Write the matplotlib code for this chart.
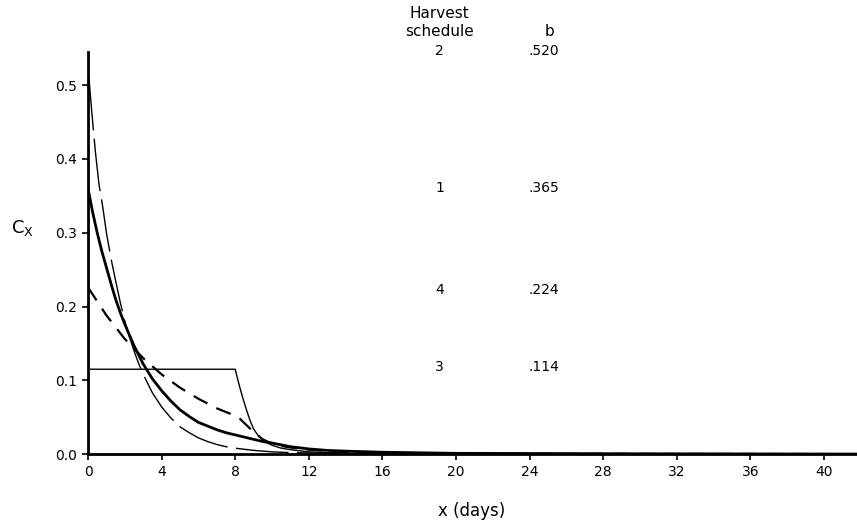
import matplotlib
matplotlib.use("Agg")
import matplotlib.pyplot as plt

# ---- data ----
x2 = [0.05, 0.2, 0.4, 0.6, 0.8, 1.0, 1.25, 1.5, 1.75, 2.0, 2.25, 2.5, 2.75, 3.0, 3.5, 4.0, 4.5, 5.0, 5.5, 6.0, 6.5, 7.0, 7.5, 8.0, 9.0, 10.0, 11.0, 12.0, 14.0, 16.0, 20.0, 30.0, 42.0]
y2 = [0.510, 0.465, 0.410, 0.365, 0.335, 0.300, 0.265, 0.235, 0.206, 0.180, 0.159, 0.140, 0.123, 0.108, 0.083, 0.064, 0.049, 0.037, 0.029, 0.022, 0.017, 0.013, 0.010, 0.008, 0.005, 0.003, 0.002, 0.0015, 0.0008, 0.0005, 0.0002, 0.0001, 0.0]

x1 = [0.0, 0.25, 0.5, 0.75, 1.0, 1.25, 1.5, 1.75, 2.0, 2.5, 3.0, 3.5, 4.0, 4.5, 5.0, 5.5, 6.0, 6.5, 7.0, 7.5, 8.0, 8.5, 9.0, 9.5, 10.0, 11.0, 12.0, 13.0, 14.0, 16.0, 20.0, 30.0, 42.0]
y1 = [0.360, 0.328, 0.300, 0.275, 0.253, 0.231, 0.210, 0.192, 0.176, 0.147, 0.122, 0.102, 0.086, 0.072, 0.060, 0.051, 0.043, 0.038, 0.033, 0.029, 0.026, 0.023, 0.020, 0.017, 0.015, 0.010, 0.007, 0.005, 0.004, 0.0025, 0.001, 0.0004, 0.0]

x4 = [0.0, 1.0, 2.0, 3.0, 4.0, 5.0, 6.0, 7.0, 8.0, 8.25, 8.5, 8.75, 9.0, 9.25, 9.5, 10.0, 10.5, 11.0, 12.0, 14.0, 16.0, 20.0, 30.0, 42.0]
y4 = [0.226, 0.188, 0.156, 0.130, 0.108, 0.090, 0.075, 0.062, 0.052, 0.048, 0.042, 0.036, 0.030, 0.025, 0.020, 0.014, 0.011, 0.009, 0.006, 0.003, 0.0015, 0.0006, 0.0002, 0.0]

x3 = [0.0, 8.0, 8.05, 8.15, 8.3, 8.45, 8.6, 8.8, 9.0, 9.25, 9.5, 9.75, 10.0, 10.5, 11.0, 12.0, 14.0, 16.0, 20.0, 30.0, 42.0]
y3 = [0.115, 0.115, 0.110, 0.100, 0.086, 0.073, 0.061, 0.046, 0.034, 0.025, 0.019, 0.015, 0.012, 0.008, 0.006, 0.003, 0.0012, 0.0006, 0.0002, 0.0001, 0.0]

schedules = ["2", "1", "4", "3"]
b_labels = [".520", ".365", ".224", ".114"]
row_y = [0.546, 0.361, 0.222, 0.118]

xticks = [0, 4, 8, 12, 16, 20, 24, 28, 32, 36, 40]
yticks = [0.0, 0.1, 0.2, 0.3, 0.4, 0.5]

# ---- figure ----
fig = plt.figure(figsize=(8.57, 5.28), dpi=100)
ax = fig.add_axes([0.1027, 0.140, 0.8973, 0.7615])
ax.set_xlim(0, 41.8)
ax.set_ylim(0, 0.545)

ax.plot(x3, y3, color="black", lw=1.0)
ax.plot(x4, y4, color="black", lw=1.6, dashes=(7, 4.5))
ax.plot(x1, y1, color="black", lw=2.0)
ax.plot(x2, y2, color="black", lw=1.0, dashes=(38, 6))

for s in ["top", "right"]:
    ax.spines[s].set_visible(False)
for s in ["left", "bottom"]:
    ax.spines[s].set_linewidth(2.0)

ax.set_xticks(xticks)
ax.set_xticklabels([str(v) for v in xticks])
ax.set_yticks(yticks)
ax.set_yticklabels([f"{v:.1f}" for v in yticks])
ax.tick_params(direction="out", length=4, width=1.2, labelsize=10, pad=4)

ax.text(19.1, 0.597, "Harvest", ha="center", va="center", fontsize=11, clip_on=False)
ax.text(19.1, 0.573, "schedule", ha="center", va="center", fontsize=11, clip_on=False)
ax.text(25.1, 0.573, "b", ha="center", va="center", fontsize=11, clip_on=False)
for s, b, yy in zip(schedules, b_labels, row_y):
    ax.text(19.1, yy, s, ha="center", va="center", fontsize=10, clip_on=False)
    ax.text(24.8, yy, b, ha="center", va="center", fontsize=10, clip_on=False)

fig.text(22 / 857, 1 - 228 / 528, r"C$_{\mathrm{X}}$", ha="center", va="center", fontsize=13)
fig.text(472 / 857, 1 - 511 / 528, "x (days)", ha="center", va="center", fontsize=12)

fig.savefig("out.png", dpi=100)
